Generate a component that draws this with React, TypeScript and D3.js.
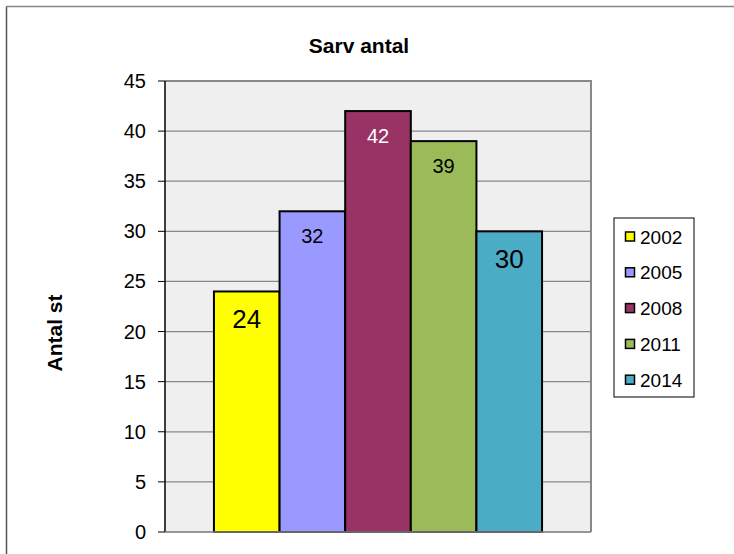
import React from "react";
import * as d3 from "d3";

const years = ["2002", "2005", "2008", "2011", "2014"];
const values = [24, 32, 42, 39, 30];
const yTicks = [0, 5, 10, 15, 20, 25, 30, 35, 40, 45];
const title = "Sarv antal";
const yLabel = "Antal st";

const colors = ["#FFFF00", "#9999FF", "#993366", "#9BBB59", "#4BACC6"];
const labelColors = ["#000", "#000", "#fff", "#000", "#000"];
const labelSizes = [26, 20, 20, 20, 26];

const W = 734;
const H = 554;
const plot = { left: 165, right: 591, top: 81, bottom: 532 };
const FONT = "'Liberation Sans', Arial, sans-serif";

export default function App() {
  const x = d3
    .scaleBand<string>()
    .domain(years)
    .range([plot.left, plot.right])
    .paddingInner(0)
    .paddingOuter(0.746);
  const y = d3.scaleLinear().domain([0, 45]).range([plot.bottom, plot.top]);

  const legendX = 614;
  const legendY = 218;
  const legendW = 80;
  const legendH = 179;
  const itemY0 = 236.5;
  const itemStep = 35.8;

  return (
    <svg
      width={W}
      height={H}
      style={{ position: "absolute", left: 0, top: 0, background: "#fff" }}
      fontFamily={FONT}
    >
      <rect x={0} y={0} width={W} height={H} fill="#fff" />
      {/* outer chart frame */}
      <line x1={6.5} y1={6.5} x2={W + 10} y2={6.5} stroke="#888" strokeWidth={1.5} />
      <line x1={6.5} y1={6.5} x2={6.5} y2={H + 10} stroke="#555" strokeWidth={1.5} />

      {/* title */}
      <text x={359} y={52.5} textAnchor="middle" fontSize={21} fontWeight="bold" fill="#000">
        {title}
      </text>

      {/* y label */}
      <text
        transform={`translate(62,333) rotate(-90)`}
        textAnchor="middle"
        fontSize={21}
        fontWeight="bold"
        fill="#000"
      >
        {yLabel}
      </text>

      {/* plot background */}
      <rect
        x={plot.left}
        y={plot.top}
        width={plot.right - plot.left}
        height={plot.bottom - plot.top}
        fill="#efefef"
      />

      {/* gridlines */}
      {yTicks.map((t) => (
        <line
          key={"g" + t}
          x1={plot.left}
          x2={plot.right}
          y1={y(t)}
          y2={y(t)}
          stroke="#888"
          strokeWidth={1.2}
        />
      ))}
      {/* plot frame shadow top/right */}
      <line x1={plot.left} x2={plot.right + 1} y1={plot.top} y2={plot.top} stroke="#888" strokeWidth={2} />
      <line x1={plot.right} x2={plot.right} y1={plot.top} y2={plot.bottom} stroke="#888" strokeWidth={2} />

      {/* bars */}
      {years.map((yr, i) => (
        <rect
          key={yr}
          x={x(yr)!}
          y={y(values[i])}
          width={x.bandwidth()}
          height={y(0) - y(values[i])}
          fill={colors[i]}
          stroke="#000"
          strokeWidth={2}
        />
      ))}

      {/* bar labels */}
      {years.map((yr, i) => (
        <text
          key={"l" + yr}
          x={x(yr)! + x.bandwidth() / 2}
          y={y(values[i]) + (labelSizes[i] > 22 ? 36.5 : 32)}
          textAnchor="middle"
          fontSize={labelSizes[i]}
          fill={labelColors[i]}
        >
          {values[i]}
        </text>
      ))}

      {/* y axis */}
      <line x1={plot.left} x2={plot.left} y1={plot.top} y2={plot.bottom} stroke="#000" strokeWidth={1.5} />
      <line x1={plot.left} x2={plot.right} y1={plot.bottom} y2={plot.bottom} stroke="#888" strokeWidth={1.5} />
      {yTicks.map((t) => (
        <g key={"t" + t}>
          <line x1={158} x2={plot.left} y1={y(t)} y2={y(t)} stroke="#000" strokeWidth={1} />
          <text x={146} y={y(t) + 7} textAnchor="end" fontSize={20} fill="#000">
            {t}
          </text>
        </g>
      ))}

      {/* legend */}
      <rect x={legendX} y={legendY} width={legendW} height={legendH} fill="#fff" stroke="#000" strokeWidth={1} />
      {years.map((yr, i) => (
        <g key={"lg" + yr}>
          <rect
            x={625.5}
            y={itemY0 + i * itemStep - 4.5}
            width={9}
            height={9}
            fill={colors[i]}
            stroke="#000"
            strokeWidth={1.5}
          />
          <text x={640} y={itemY0 + i * itemStep + 7} fontSize={19} fill="#000">
            {yr}
          </text>
        </g>
      ))}
    </svg>
  );
}
